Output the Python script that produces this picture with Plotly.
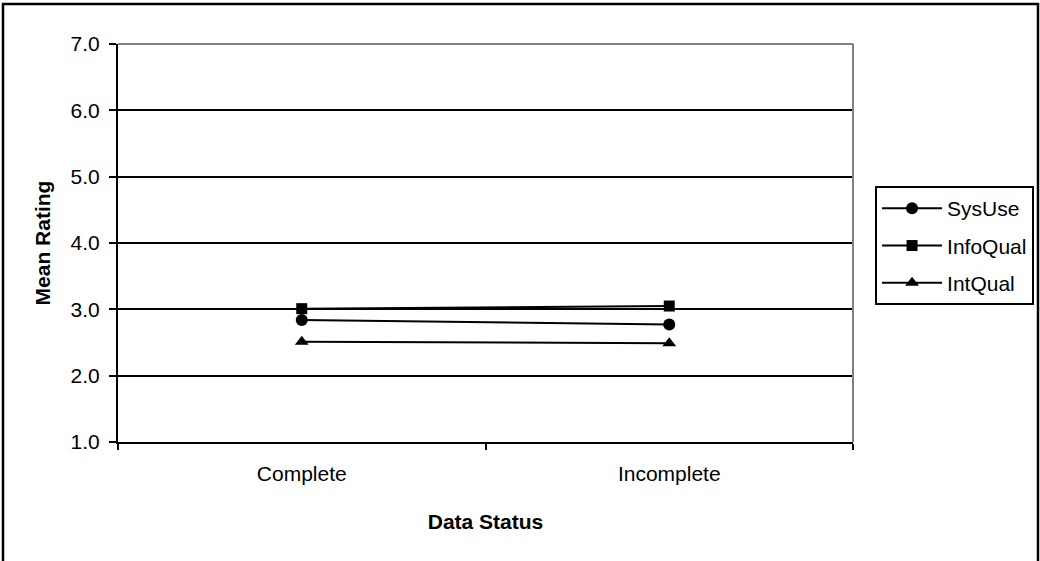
import plotly.graph_objects as go

# Mean ratings by data status
categories = ["Complete", "Incomplete"]
sys_use = [2.84, 2.77]
info_qual = [3.01, 3.05]
int_qual = [2.51, 2.49]

series = [
    ("SysUse", sys_use, "circle", 12),
    ("InfoQual", info_qual, "square", 11),
    ("IntQual", int_qual, "triangle-up", 12),
]

FONT = "Liberation Sans, Arial, sans-serif"
FS = 21

fig = go.Figure()
for name, vals, sym, size in series:
    fig.add_trace(go.Scatter(
        x=categories, y=vals, name=name, mode="lines+markers",
        line=dict(color="black", width=2),
        marker=dict(symbol=sym, size=size, color="black"),
        legendgroup=name,
    ))

fig.update_layout(
    width=1040, height=561,
    margin=dict(l=118, r=187, t=44, b=119, autoexpand=False),
    paper_bgcolor="white", plot_bgcolor="white",
    font=dict(family=FONT, size=FS, color="black"),
    showlegend=True,
    legend=dict(
        x=1.03, y=0.643, xanchor="left", yanchor="top",
        bordercolor="black", borderwidth=2, bgcolor="white",
        font=dict(family=FONT, size=FS, color="black"),
        tracegroupgap=7, itemwidth=60,
    ),
    xaxis=dict(
        type="category", range=[-0.5, 1.5], tickson="boundaries",
        showgrid=False, showline=True, linecolor="black", linewidth=2,
        ticks="outside", ticklen=6, tickwidth=2, tickcolor="black",
        ticklabelstandoff=12,
        title=dict(text="<b>Data Status</b>", standoff=30,
                   font=dict(family=FONT, size=FS)),
        tickfont=dict(family=FONT, size=FS),
    ),
    yaxis=dict(
        range=[1, 7], dtick=1, tick0=1, tickformat=".1f",
        showgrid=True, gridcolor="black", gridwidth=2,
        showline=True, linecolor="black", linewidth=2,
        ticks="outside", ticklen=7, tickwidth=2, tickcolor="black",
        ticklabelstandoff=5,
        zeroline=False,
        title=dict(text="<b>Mean Rating</b>", standoff=14,
                   font=dict(family=FONT, size=FS)),
        tickfont=dict(family=FONT, size=FS),
    ),
    shapes=[
        # gray plot-area border on top and right
        dict(type="line", xref="paper", yref="paper", x0=0, x1=1, y0=1, y1=1,
             line=dict(color="#808080", width=2), layer="above"),
        dict(type="line", xref="paper", yref="paper", x0=1, x1=1, y0=0, y1=1,
             line=dict(color="#808080", width=2), layer="above"),
        # outer chart border
        dict(type="rect", xref="paper", yref="paper",
             x0=-115 / 735, x1=1 + 185 / 735, y0=-0.33, y1=1 + 40 / 398,
             line=dict(color="black", width=2.5), layer="below"),
    ],
)

fig.write_html("out.html")
